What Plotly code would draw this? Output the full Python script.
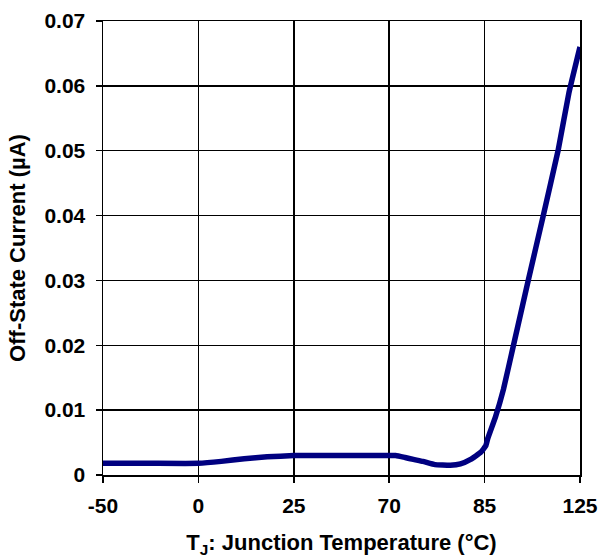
import numpy as np
import plotly.graph_objects as go

# Axis tick temperatures (equally spaced categories on the chart)
tick_temps = [-50, 0, 25, 70, 85, 125]
tick_labels = ["-50", "0", "25", "70", "85", "125"]

# Curve: junction temperature (°C) and off-state current (µA)
temps = [-50, -25, 0, 6, 12, 18, 25, 40, 55, 71, 72.5, 73.8, 75.3, 77.2, 79.6, 81.2,
         82.8, 84.4, 85.5, 86.3, 89.6, 92.9, 97.1, 103.3, 109.6, 115.8, 120.4, 125]
current = [0.0018, 0.0018, 0.0018, 0.0021, 0.0025, 0.0028, 0.0030, 0.0030, 0.0030, 0.0030,
           0.0027, 0.0024, 0.0021, 0.0016, 0.0015, 0.0017, 0.0024, 0.0035, 0.0045, 0.0056,
           0.0090, 0.0132, 0.0200, 0.0300, 0.0400, 0.0500, 0.0590, 0.0660]

y_ticks = [0, 0.01, 0.02, 0.03, 0.04, 0.05, 0.06, 0.07]
y_labels = ["0", "0.01", "0.02", "0.03", "0.04", "0.05", "0.06", "0.07"]

# piecewise scale: temperature -> equally spaced tick position
tick_pos = list(range(len(tick_temps)))
x_pos = np.interp(temps, tick_temps, tick_pos)

fig = go.Figure()
fig.add_trace(go.Scatter(
    x=x_pos, y=current, mode="lines",
    line=dict(color="#000080", width=5.5, shape="spline", smoothing=0.3),
    hoverinfo="skip", showlegend=False,
))

font_main = dict(family="Liberation Sans, Arial, sans-serif", size=21, color="black")

fig.update_layout(
    width=598, height=558,
    margin=dict(l=103, r=18, t=21, b=83, autoexpand=False),
    paper_bgcolor="white", plot_bgcolor="white",
    font=font_main,
    showlegend=False,
)
fig.update_xaxes(
    range=[0, len(tick_temps) - 1],
    tickmode="array", tickvals=tick_pos, ticktext=[f"<b>{t}</b>" for t in tick_labels],
    showgrid=True, gridcolor="black", gridwidth=1.5,
    showline=True, linecolor="black", linewidth=1.5, mirror=True,
    ticks="outside", ticklen=6, tickwidth=1.5, tickcolor="black",
    ticklabelstandoff=5, ticklabeloverflow="allow",
    zeroline=False, automargin=False,
    title=dict(text="<b>T<sub>J</sub>: Junction Temperature (°C)</b>", standoff=20,
               font=dict(size=22)),
)
fig.update_yaxes(
    range=[0, 0.07],
    tickmode="array", tickvals=y_ticks, ticktext=[f"<b>{t}</b>" for t in y_labels],
    showgrid=True, gridcolor="black", gridwidth=1.5,
    showline=True, linecolor="black", linewidth=1.5, mirror=True,
    ticks="outside", ticklen=6, tickwidth=1.5, tickcolor="black",
    ticklabelstandoff=6,
    zeroline=False, automargin=False,
    title=dict(text="<b>Off-State Current (µA)</b>", standoff=12, font=dict(size=22)),
)

fig.write_html("out.html",
               config={"displayModeBar": False, "staticPlot": True},
               post_script="document.body.style.margin='0';document.body.style.overflow='hidden';")
